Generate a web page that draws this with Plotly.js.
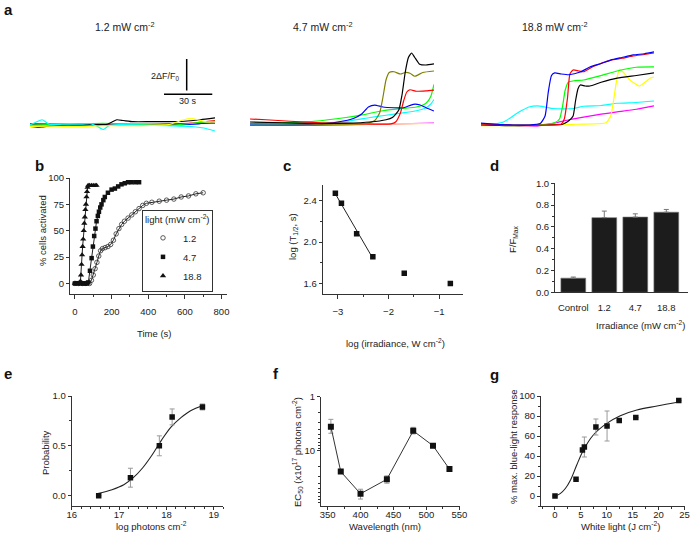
<!DOCTYPE html>
<html><head><meta charset="utf-8">
<script src="https://cdn.plot.ly/plotly-3.0.1.min.js"></script>
<style>html,body{margin:0;padding:0;background:#fff;} #chart{width:700px;height:534px;}</style>
</head><body><div id="chart"></div>
<script>
const FONT = 'Liberation Sans, Arial, Helvetica, sans-serif';

// ---------- Panel a: calcium traces (time s, dF/F0) ----------
const a_titles = ['1.2 mW cm<sup>-2</sup>', '4.7 mW cm<sup>-2</sup>', '18.8 mW cm<sup>-2</sup>'];
// group 1: 1.2 mW
const a1_magenta_t = [0, 25, 50, 75, 100, 115];
const a1_magenta_v = [0.07, 0.05, 0.03, 0.05, 0.1, 0.1];
const a1_blue_t = [0, 30, 60, 90, 105, 115];
const a1_blue_v = [0.02, 0.0, 0.02, 0.02, 0.08, 0.2];
const a1_red_t = [0, 20, 40, 60, 80, 100, 115];
const a1_red_v = [0.07, 0.05, 0.0, 0.03, 0.05, 0.12, 0.3];
const a1_green_t = [0, 20, 40, 60, 75, 90, 100, 108, 115];
const a1_green_v = [0.0, 0.05, 0.1, 0.08, 0.0, 0.0, 0.1, 0.2, 0.25];
const a1_yellow_t = [0, 15, 30, 45, 60, 75, 86, 94, 100, 106, 110, 115];
const a1_yellow_v = [-0.1, -0.08, -0.1, -0.05, -0.05, -0.03, 0.02, 0.3, 0.45, 0.3, 0.2, 0.2];
const a1_cyan_t = [0, 4, 7.5, 12, 20, 30, 38, 42, 45.6, 49, 55, 70, 85, 100, 108, 115];
const a1_cyan_v = [0, 0.2, 0.35, 0.05, 0.05, 0.05, 0.08, -0.1, -0.3, -0.05, 0.02, 0.0, -0.05, -0.1, -0.2, -0.4];
const a1_black_t = [0, 5, 8, 15, 23, 35, 48, 51, 54, 58, 64, 75, 86, 96, 106, 115];
const a1_black_v = [-0.1, -0.15, -0.12, -0.05, 0, 0.03, 0.05, 0.2, 0.35, 0.3, 0.22, 0.22, 0.22, 0.25, 0.35, 0.47];
// group 2: 4.7 mW
const a2_magenta_t = [0, 40, 80, 115];
const a2_magenta_v = [0.0, -0.02, 0.05, 0.12];
const a2_yellow_t = [0, 40, 80, 115];
const a2_yellow_v = [0.05, 0.05, 0.08, 0.1];
const a2_cyan_t = [0, 30, 60, 75, 85, 95, 104, 110, 113, 115];
const a2_cyan_v = [0.0, 0.05, 0.25, 0.5, 0.65, 0.8, 0.95, 1.15, 1.4, 1.7];
const a2_blue_t = [0, 20, 40, 55, 65, 70, 74, 78, 83, 90, 96, 102, 106, 110, 115];
const a2_blue_v = [0.0, 0.0, 0.05, 0.2, 0.45, 0.75, 1.2, 1.33, 1.2, 1.15, 1.15, 1.38, 1.35, 1.15, 0.93];
const a2_green_t = [0, 20, 40, 60, 70, 83, 95, 104, 110, 113, 115];
const a2_green_v = [0.1, 0.15, 0.25, 0.5, 0.67, 0.95, 1.1, 1.2, 1.45, 1.9, 2.7];
const a2_red_t = [0, 10, 25, 45, 70, 88, 91, 94, 96, 98, 100, 104, 110, 115];
const a2_red_v = [0.4, 0.35, 0.25, 0.15, 0.08, 0.08, 0.2, 0.8, 1.6, 2.2, 2.35, 2.25, 2.28, 2.33];
const a2_olive_t = [0, 30, 60, 72, 78, 81, 83, 85, 87, 90, 94, 97, 100, 103, 108, 115];
const a2_olive_v = [0.1, 0.08, 0.05, 0.1, 0.3, 0.8, 1.8, 3.0, 3.5, 3.55, 3.4, 3.5, 3.45, 3.25, 3.5, 3.6];
const a2_black_t = [0, 20, 40, 60, 75, 85, 89, 93, 95, 97, 99, 101, 103, 106, 110, 115];
const a2_black_v = [0.2, 0.15, 0.1, 0.12, 0.2, 0.35, 0.5, 1.0, 2.0, 3.5, 4.5, 4.8, 4.5, 4.05, 4.0, 4.07];
// group 3: 18.8 mW
const a3_magenta_t = [0, 15, 35, 47, 55, 64, 75, 85, 97, 108];
const a3_magenta_v = [0.07, 0.0, -0.07, 0.15, 0.35, 0.53, 0.72, 0.87, 1.05, 1.27];
const a3_cyan_t = [0, 8, 14, 18, 22, 26, 30, 35, 40, 45, 51, 58, 64, 75, 85, 97, 108];
const a3_cyan_v = [-0.05, 0.05, 0.2, 0.45, 0.75, 1.0, 1.2, 1.27, 1.2, 1.1, 1.07, 1.1, 1.25, 1.3, 1.45, 1.5, 1.6];
const a3_yellow_t = [0, 20, 40, 60, 78, 81, 83, 85, 86.5, 89, 93, 99, 103, 106, 108];
const a3_yellow_v = [-0.05, -0.05, -0.02, 0.05, 0.15, 0.6, 1.8, 3.2, 3.73, 3.5, 3.0, 2.6, 2.9, 3.15, 3.2];
const a3_black_t = [0, 20, 40, 51, 55, 57.5, 59, 60.5, 62, 65, 68, 75, 85, 97, 108];
const a3_black_v = [0.0, -0.05, 0.0, 0.05, 0.3, 0.6, 1.6, 2.4, 2.67, 2.6, 2.6, 2.85, 3.13, 3.3, 3.47];
const a3_green_t = [0, 20, 40, 46, 49, 51, 52.5, 54.5, 58, 64, 75, 85, 97, 108];
const a3_green_v = [0.05, 0.0, 0.05, 0.15, 0.4, 1.3, 2.3, 2.85, 2.95, 3.0, 3.3, 3.6, 3.85, 3.87];
const a3_red_t = [0, 20, 40, 50, 52, 54, 55.5, 57.5, 61, 64, 70, 81, 88, 95, 102, 108];
const a3_red_v = [0.05, 0.0, 0.0, 0.05, 0.4, 1.8, 3.4, 3.67, 3.6, 3.55, 3.9, 4.33, 4.45, 4.6, 4.7, 4.8];
const a3_blue_t = [0, 10, 20, 30, 37, 40, 42, 44, 46, 50, 55, 62, 68, 75, 81, 88, 95, 102, 108];
const a3_blue_v = [0.13, 0.05, 0.0, 0.0, 0.1, 0.6, 2.2, 3.3, 3.47, 3.4, 3.35, 3.53, 3.87, 4.1, 4.33, 4.5, 4.67, 4.75, 4.87];

// ---------- Panel b: % cells activated vs time ----------
const b_labels = ['1.2', '4.7', '18.8'];
const b12_t = [0, 20, 40, 60, 80, 90, 100, 110, 120, 130, 140, 150, 165, 180, 195, 210, 225, 240, 255, 270, 290, 310, 330, 350, 370, 390, 420, 460, 500, 540, 580, 620, 660, 700];
const b12_v = [0, 0, 0, 0, 0, 3, 8, 14, 20, 26, 31, 33, 34, 35, 37, 41, 47, 52, 56, 59, 62, 65, 68, 71, 74, 76, 77, 78, 79, 80, 82, 83, 85, 86];
const b47_t = [0, 15, 30, 45, 55, 65, 73, 82, 91, 98, 105, 112, 118, 125, 131, 138, 145, 155, 163, 180, 200, 218, 236, 254, 272, 290, 308, 330, 350];
const b47_v = [0, 0, 0, 0, 0, 0, 1, 12, 24, 35, 45, 52, 59, 64, 68, 72, 75, 79, 82, 86, 89, 90, 92, 94, 95, 96, 96, 96, 96];
const b188_t = [0, 5, 10, 15, 20, 25, 30, 33, 36, 39, 42, 45, 48, 51, 54, 57, 60, 63, 66, 69, 72, 80, 90, 100, 110, 118];
const b188_v = [0, 0, 0, 0, 0, 0, 2, 8, 18, 27, 35, 42, 50, 57, 63, 70, 75, 82, 87, 91, 93, 93, 93, 93, 93, 93];

// ---------- Panel c ----------
const c_x = [-3.05, -2.93, -2.63, -2.31, -1.69, -0.78];
const c_y = [2.47, 2.375, 2.08, 1.86, 1.70, 1.60];

// ---------- Panel d ----------
const d_cats = ['Control', '1.2', '4.7', '18.8'];
const d_vals = [0.13, 0.685, 0.69, 0.735];
const d_err = [0.01, 0.06, 0.03, 0.025];

// ---------- Panel e ----------
const e_x = [16.57, 17.24, 17.85, 18.12, 18.76];
const e_y = [0.0, 0.18, 0.5, 0.79, 0.89];
const e_err = [0, 0.095, 0.1, 0.08, 0.03];
const e_fit_x = [16.55, 16.85, 17.1, 17.3, 17.5, 17.7, 17.9, 18.1, 18.3, 18.5, 18.8];
const e_fit_y = [0.02, 0.06, 0.11, 0.18, 0.28, 0.41, 0.56, 0.69, 0.78, 0.85, 0.91];

// ---------- Panel f ----------
const f_x = [355, 370, 400, 440, 480, 510, 535];
const f_y = [3.6, 24.5, 63, 34, 4.3, 8.1, 22];
const f_err_plus = [1.16, 1.5, 16, 6.2, 0.6, 0.4, 0.8];
const f_err_minus = [0.97, 1.5, 11, 4.6, 0.6, 0.4, 0.8];
const f_ticks = [1, 10];
const f_ticktext = ['1', '10'];

// ---------- Panel g ----------
const g_x = [0, 4.06, 5.3, 5.67, 7.9, 10.05, 12.4, 15.6, 23.9];
const g_y = [0, 16.7, 46, 49, 69, 70, 75.5, 78.5, 95.5];
const g_err = [0, 0, 0, 10, 8, 15, 0, 0, 0];
const g_fit_x = [0, 1, 2, 3, 4.2, 5.5, 7.4, 10, 12.6, 15.8, 19.7, 23.9];
const g_fit_y = [0, 2.4, 7.5, 16, 31, 46, 61, 72.6, 80.3, 86, 90, 94];

// ================= build =================
const W = 700, H = 534;
const px = v => v / W;
const py = v => 1 - v / H;
const traces = [];
const axName = (i, k) => (i === 1 ? k : k + i);

function lineA(i, color, t, v) {
  traces.push({type: 'scatter', mode: 'lines', x: t, y: v, xaxis: axName(i, 'x'), yaxis: axName(i, 'y'),
    line: {color: color, width: 1.2, shape: 'spline', smoothing: 0.5}, showlegend: false, hoverinfo: 'skip'});
}
lineA(1, '#ff00ff', a1_magenta_t, a1_magenta_v);
lineA(1, '#0000ff', a1_blue_t, a1_blue_v);
lineA(1, '#ff0000', a1_red_t, a1_red_v);
lineA(1, '#00ff00', a1_green_t, a1_green_v);
lineA(1, '#000000', a1_black_t, a1_black_v);
lineA(1, '#00ffff', a1_cyan_t, a1_cyan_v);
lineA(1, '#ffff00', a1_yellow_t, a1_yellow_v);

lineA(2, '#ff00ff', a2_magenta_t, a2_magenta_v);
lineA(2, '#ffff00', a2_yellow_t, a2_yellow_v);
lineA(2, '#00ffff', a2_cyan_t, a2_cyan_v);
lineA(2, '#00ff00', a2_green_t, a2_green_v);
lineA(2, '#0000ff', a2_blue_t, a2_blue_v);
lineA(2, '#ff0000', a2_red_t, a2_red_v);
lineA(2, '#808000', a2_olive_t, a2_olive_v);
lineA(2, '#000000', a2_black_t, a2_black_v);

lineA(3, '#ff00ff', a3_magenta_t, a3_magenta_v);
lineA(3, '#00ffff', a3_cyan_t, a3_cyan_v);
lineA(3, '#ffff00', a3_yellow_t, a3_yellow_v);
lineA(3, '#000000', a3_black_t, a3_black_v);
lineA(3, '#00ff00', a3_green_t, a3_green_v);
lineA(3, '#ff0000', a3_red_t, a3_red_v);
lineA(3, '#0000ff', a3_blue_t, a3_blue_v);

// panel b
const bSeries = [
  [b12_t, b12_v, {symbol: 'circle-open', size: 4.5, color: '#333', line: {width: 0.8, color: '#333'}}],
  [b47_t, b47_v, {symbol: 'square', size: 4.5, color: '#111'}],
  [b188_t, b188_v, {symbol: 'triangle-up', size: 5.5, color: '#111'}]
];
bSeries.forEach((s) => {
  traces.push({type: 'scatter', mode: 'lines', x: s[0], y: s[1], xaxis: 'x4', yaxis: 'y4',
    line: {color: '#222', width: 1}, showlegend: false, hoverinfo: 'skip'});
});
bSeries.forEach((s, k) => {
  traces.push({type: 'scatter', mode: 'markers', name: b_labels[k], x: s[0], y: s[1], xaxis: 'x4', yaxis: 'y4',
    marker: s[2], showlegend: true});
});

// panel c: linear fit over first four points
(function () {
  const n = 4; let sx = 0, sy = 0, sxx = 0, sxy = 0;
  for (let i = 0; i < n; i++) { sx += c_x[i]; sy += c_y[i]; sxx += c_x[i] * c_x[i]; sxy += c_x[i] * c_y[i]; }
  const m = (n * sxy - sx * sy) / (n * sxx - sx * sx), b = (sy - m * sx) / n;
  const fx = [c_x[0], c_x[n - 1]];
  traces.push({type: 'scatter', mode: 'lines', x: fx, y: fx.map(x => m * x + b), xaxis: 'x5', yaxis: 'y5',
    line: {color: '#222', width: 1}, showlegend: false});
})();
traces.push({type: 'scatter', mode: 'markers', x: c_x, y: c_y, xaxis: 'x5', yaxis: 'y5',
  marker: {symbol: 'square', size: 5.5, color: '#111'}, showlegend: false});

// panel d
traces.push({type: 'bar', x: d_cats, y: d_vals, xaxis: 'x6', yaxis: 'y6', width: 0.8,
  marker: {color: '#1c1c1c', line: {color: '#777', width: 0.6}},
  error_y: {type: 'data', symmetric: false, array: d_err, arrayminus: d_cats.map(() => 0), color: '#777', thickness: 1, width: 2.5},
  showlegend: false});

// panel e
traces.push({type: 'scatter', mode: 'lines', x: e_fit_x, y: e_fit_y, xaxis: 'x7', yaxis: 'y7',
  line: {color: '#222', width: 1.1, shape: 'spline'}, showlegend: false});
traces.push({type: 'scatter', mode: 'markers', x: e_x, y: e_y, xaxis: 'x7', yaxis: 'y7',
  marker: {symbol: 'square', size: 5.5, color: '#111'},
  error_y: {type: 'data', array: e_err, color: '#999', thickness: 1, width: 2.5}, showlegend: false});

// panel f
traces.push({type: 'scatter', mode: 'lines+markers', x: f_x, y: f_y, xaxis: 'x8', yaxis: 'y8',
  line: {color: '#333', width: 1},
  marker: {symbol: 'square', size: 6, color: '#111'},
  error_y: {type: 'data', symmetric: false, array: f_err_plus, arrayminus: f_err_minus, color: '#999', thickness: 1, width: 2.5},
  showlegend: false});

// panel g
traces.push({type: 'scatter', mode: 'lines', x: g_fit_x, y: g_fit_y, xaxis: 'x9', yaxis: 'y9',
  line: {color: '#222', width: 1.1, shape: 'spline'}, showlegend: false});
traces.push({type: 'scatter', mode: 'markers', x: g_x, y: g_y, xaxis: 'x9', yaxis: 'y9',
  marker: {symbol: 'square', size: 5.5, color: '#111'},
  error_y: {type: 'data', array: g_err, color: '#999', thickness: 1, width: 2.5}, showlegend: false});

// ---------- axes ----------
const tickfont = {family: FONT, size: 9.5, color: '#222'};
function xa(l, r, range, anchor, extra) {
  return Object.assign({domain: [px(l), px(r)], range: range, anchor: anchor, showline: true, linecolor: '#333', linewidth: 1,
    ticks: 'outside', ticklen: 4, tickwidth: 1, tickcolor: '#333', showgrid: false, zeroline: false,
    tickfont: tickfont, fixedrange: true, automargin: false}, extra);
}
function ya(top, bottom, range, anchor, extra) {
  return Object.assign({domain: [py(bottom), py(top)], range: range, anchor: anchor, showline: true, linecolor: '#333', linewidth: 1,
    ticks: 'outside', ticklen: 3, tickwidth: 1, tickcolor: '#333', showgrid: false, zeroline: false,
    tickfont: tickfont, fixedrange: true, automargin: false}, extra);
}
const minor = (d, t0) => ({ticks: 'outside', ticklen: 2, tickcolor: '#333', dtick: d, tick0: t0, showgrid: false});
const hidden = {visible: false, fixedrange: true};

const layout = {
  width: W, height: H, margin: {l: 0, r: 0, t: 0, b: 0}, paper_bgcolor: '#fff', plot_bgcolor: 'rgba(0,0,0,0)',
  font: {family: FONT, size: 9.5, color: '#222'},
  showlegend: true,
  legend: {x: px(142), y: py(210), xanchor: 'left', yanchor: 'top', bordercolor: '#333', borderwidth: 1, bgcolor: '#fff',
    font: {family: FONT, size: 9.5, color: '#222'}, title: {text: 'light (mW cm<sup>-2</sup>)', font: {family: FONT, size: 9.5, color: '#222'}},
    tracegroupgap: 0, itemwidth: 30},
  // panel a
  xaxis: Object.assign({domain: [px(30), px(215)], range: [0, 115], anchor: 'y'}, hidden),
  yaxis: Object.assign({domain: [py(140), py(40)], range: [-1, 5.667], anchor: 'x'}, hidden),
  xaxis2: Object.assign({domain: [px(250), px(434)], range: [0, 115], anchor: 'y2'}, hidden),
  yaxis2: Object.assign({domain: [py(140), py(40)], range: [-1, 5.667], anchor: 'x2'}, hidden),
  xaxis3: Object.assign({domain: [px(481), px(654)], range: [0, 108], anchor: 'y3'}, hidden),
  yaxis3: Object.assign({domain: [py(140), py(40)], range: [-1, 5.667], anchor: 'x3'}, hidden),
  // panel b
  xaxis4: xa(70, 227, [-27, 830], 'y4', {dtick: 200, tick0: 0, minor: minor(100, 0), ticklabelstandoff: 5}),
  yaxis4: ya(178, 294, [-10, 100], 'x4', {dtick: 25, tick0: 0}),
  // panel c
  xaxis5: xa(322.7, 463, [-3.3, -0.53], 'y5', {dtick: 1, tick0: -3, minor: minor(0.5, -3), ticklabelstandoff: 5}),
  yaxis5: ya(185, 294, [1.5, 2.55], 'x5', {dtick: 0.4, tick0: 1.6, tickformat: '.1f', minor: minor(0.2, 1.6)}),
  // panel d
  xaxis6: xa(555, 688, [-0.59, 3.7], 'y6', {type: 'category', ticks: '', ticklen: 0, ticklabelstandoff: 6}),
  yaxis6: ya(183.3, 292.3, [0, 1.0], 'x6', {dtick: 0.2, tick0: 0, tickformat: '.1f', minor: minor(0.1, 0)}),
  // panel e
  xaxis7: xa(71.7, 223.3, [16, 19.2], 'y7', {dtick: 1, tick0: 16, ticklen: 3, ticklabelstandoff: -3, minor: minor(0.2, 16)}),
  yaxis7: ya(396, 505.6, [-0.1, 1.0], 'x7', {dtick: 0.5, tick0: 0, tickformat: '.1f', minor: minor(0.25, 0)}),
  // panel f
  xaxis8: xa(321, 460, [340, 551], 'y8', {dtick: 50, tick0: 350, ticklen: 3, ticklabelstandoff: -3, minor: minor(25, 350)}),
  yaxis8: ya(396.7, 505.7, [Math.log10(105), 0], 'x8', {type: 'log', tickmode: 'array', tickvals: f_ticks, ticktext: f_ticktext,
    minor: {ticks: 'outside', ticklen: 2, tickcolor: '#333', showgrid: false, tickmode: 'array',
      tickvals: [2, 3, 4, 5, 6, 7, 8, 9, 20, 30, 40, 50, 60, 70, 80, 90]}}),
  // panel g
  xaxis9: xa(541, 684.5, [-2.7, 25], 'y9', {dtick: 5, tick0: 0, ticklen: 3, ticklabelstandoff: -3, minor: minor(2.5, 0)}),
  yaxis9: ya(396, 506, [-10, 100], 'x9', {dtick: 20, tick0: 0, minor: minor(10, 0)}),
  shapes: [
    {type: 'line', xref: 'x', yref: 'y', x0: 97.4, x1: 97.4, y0: 2.3, y1: 4.4, line: {color: '#000', width: 1.5}},
    {type: 'line', xref: 'x', yref: 'y', x0: 83.3, x1: 113.3, y0: 2.05, y1: 2.05, line: {color: '#000', width: 1.5}}
  ],
  annotations: []
};

const ann = layout.annotations;
function label(text, x, y, size, bold, angle) {
  ann.push({text: bold ? '<b>' + text + '</b>' : text, x: px(x), y: py(y), xref: 'paper', yref: 'paper',
    showarrow: false, xanchor: 'center', yanchor: 'middle', textangle: angle || 0,
    font: {family: FONT, size: size, color: bold ? '#111' : '#222'}});
}
// panel letters
label('a', 8, 9, 15, true);
label('b', 39, 165, 15, true);
label('c', 287, 165, 15, true);
label('d', 494, 165, 15, true);
label('e', 8, 373, 15, true);
label('f', 276, 373, 15, true);
label('g', 494, 374, 15, true);
// panel a titles
label(a_titles[0], 125, 26, 10.5, false);
label(a_titles[1], 323, 26, 10.5, false);
label(a_titles[2], 554, 26, 10.5, false);
// axis titles
label('Time (s)', 154, 333, 9.5, false);
label('% cells activated', 42, 231, 9.5, false, -90);
label('log (irradiance, W cm<sup>-2</sup>)', 395, 343, 9.5, false);
label('log (T<sub>1/2</sub>, s)', 293, 237, 9.5, false, -90);
label('Irradiance (mW cm<sup>-2</sup>)', 640, 325, 9.5, false);
label('F/F<sub>Max</sub>', 513, 240, 9.5, false, -90);
label('log photons cm<sup>-2</sup>', 151, 526, 9.5, false);
label('Probability', 45, 452, 9.5, false, -90);
label('Wavelength (nm)', 385, 526, 9.5, false);
label('EC<sub>50</sub> (x10<sup>17</sup> photons cm<sup>-2</sup>)', 297, 452, 9.5, false, -90);
label('White light (J cm<sup>-2</sup>)', 620, 526, 9.5, false);
label('% max. blue-light response', 513, 447, 9.5, false, -90);
// scale bar labels
ann.push({text: '2ΔF/F<sub>0</sub>', x: 94.5, y: 3.2, xref: 'x', yref: 'y', showarrow: false, xanchor: 'right', yanchor: 'middle',
  font: {family: FONT, size: 9, color: '#222'}});
ann.push({text: '30 s', x: 98, y: 1.6, xref: 'x', yref: 'y', showarrow: false, xanchor: 'center', yanchor: 'middle',
  font: {family: FONT, size: 9, color: '#222'}});

Plotly.newPlot('chart', traces, layout, {staticPlot: true, displayModeBar: false});
</script></body></html>
